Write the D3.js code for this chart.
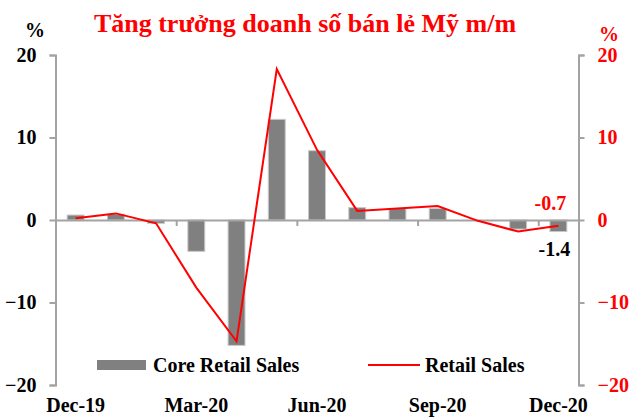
<!DOCTYPE html>
<html>
<head>
<meta charset="utf-8">
<script src="https://cdn.jsdelivr.net/npm/d3@7"></script>
<style>
body { margin: 0; background: #fff; }
text { font-family: "Liberation Serif", "Times New Roman", serif; font-weight: bold; }
</style>
</head>
<body>
<div id="chart"></div>
<script>
// months Dec-19 .. Dec-20
var months = ["Dec-19","Jan-20","Feb-20","Mar-20","Apr-20","May-20","Jun-20","Jul-20","Aug-20","Sep-20","Oct-20","Nov-20","Dec-20"];
var coreRetail = [0.6, 0.7, -0.4, -3.8, -15.2, 12.2, 8.4, 1.5, 1.4, 1.4, 0.0, -1.1, -1.4];
var retailSales = [0.2, 0.8, -0.4, -8.2, -14.7, 18.3, 8.5, 1.1, 1.4, 1.7, -0.1, -1.4, -0.7];
var monthLabels = ["Dec-19","Mar-20","Jun-20","Sep-20","Dec-20"];
var yTicks = [-20, -10, 0, 10, 20];

var width = 630, height = 418;
var plotLeft = 55.5, plotRight = 578.5, plotTop = 55, plotBottom = 385;
var axisColor = '#a3a3a3';

var svg = d3.select('#chart')
    .append('svg')
    .attr('width', width)
    .attr('height', height);

var x = d3.scaleBand()
    .domain(months)
    .range([plotLeft, plotRight])
    .padding(0);

var y = d3.scaleLinear()
    .domain([-20, 20])
    .range([plotBottom, plotTop]);

// title
svg.append('text')
    .attr('x', 305)
    .attr('y', 32)
    .attr('text-anchor', 'middle')
    .attr('fill', '#ff0000')
    .style('font-size', '26px')
    .text('Tăng trưởng doanh số bán lẻ Mỹ m/m');

svg.append('text')
    .attr('x', 35).attr('y', 37)
    .attr('text-anchor', 'middle')
    .style('font-size', '20px')
    .text('%');

svg.append('text')
    .attr('x', 609).attr('y', 41)
    .attr('text-anchor', 'middle')
    .attr('fill', '#ff0000')
    .style('font-size', '20px')
    .text('%');

// left axis
var yAxisL = d3.axisLeft(y).tickValues(yTicks).tickSize(6).tickPadding(13);
var gl = svg.append('g')
    .attr('transform', 'translate(' + plotLeft + ',0)')
    .call(yAxisL);
gl.select('.domain').attr('stroke', axisColor).attr('stroke-width', 2);
gl.selectAll('.tick line').attr('stroke', axisColor).attr('stroke-width', 2);
gl.selectAll('.tick text').style('font-size', '20px').attr('fill', '#000');

// right axis
var yAxisR = d3.axisRight(y).tickValues(yTicks).tickSize(6).tickPadding(13);
var gr = svg.append('g')
    .attr('transform', 'translate(' + plotRight + ',0)')
    .call(yAxisR);
gr.select('.domain').attr('stroke', axisColor).attr('stroke-width', 2);
gr.selectAll('.tick line').attr('stroke', axisColor).attr('stroke-width', 2);
gr.selectAll('.tick text').style('font-size', '20px').attr('fill', '#ff0000');

// bars
var barW = x.bandwidth() * 0.42;
svg.append('g')
    .selectAll('rect')
    .data(coreRetail)
    .enter()
    .append('rect')
    .attr('x', function(d, i) { return x(months[i]) + (x.bandwidth() - barW) / 2; })
    .attr('y', function(d) { return y(Math.max(0, d)); })
    .attr('width', barW)
    .attr('height', function(d) { return Math.abs(y(d) - y(0)); })
    .attr('fill', '#808080')
    .attr('stroke', '#c8c8c8')
    .attr('stroke-width', 1);

// zero line + quarter ticks
var xIdx = d3.scaleLinear().domain([0, months.length]).range([plotLeft, plotRight]);
var gx = svg.append('g')
    .attr('transform', 'translate(0,' + y(0) + ')')
    .call(d3.axisBottom(xIdx).tickValues([3, 6, 9, 12]).tickSize(6).tickFormat(''));
gx.select('.domain').attr('stroke', axisColor).attr('stroke-width', 2);
gx.selectAll('.tick line').attr('stroke', axisColor).attr('stroke-width', 2);

// retail sales line
svg.append('path')
    .datum(retailSales)
    .attr('fill', 'none')
    .attr('stroke', '#ff0000')
    .attr('stroke-width', 2)
    .attr('d', d3.line()
        .x(function(d, i) { return x(months[i]) + x.bandwidth() / 2; })
        .y(function(d) { return y(d); })
    );

// month labels
var gm = svg.append('g')
    .attr('transform', 'translate(0,398)')
    .call(d3.axisBottom(x).tickValues(monthLabels).tickSize(0).tickPadding(0));
gm.select('.domain').remove();
gm.selectAll('.tick text').style('font-size', '20px').attr('fill', '#000').attr('dy', '0.71em');

// data labels for last month
var last = months.length - 1;
svg.append('text')
    .attr('x', x(months[last]) + x.bandwidth() / 2 - 8)
    .attr('y', 210)
    .attr('text-anchor', 'middle')
    .attr('fill', '#ff0000')
    .style('font-size', '20px')
    .text(retailSales[last].toFixed(1));

svg.append('text')
    .attr('x', x(months[last]) + x.bandwidth() / 2 - 4)
    .attr('y', 256)
    .attr('text-anchor', 'middle')
    .attr('fill', '#000')
    .style('font-size', '20px')
    .text(coreRetail[last].toFixed(1));

// legend
svg.append('rect')
    .attr('x', 97).attr('y', 360)
    .attr('width', 49).attr('height', 10)
    .attr('fill', '#808080');
svg.append('text')
    .attr('x', 153).attr('y', 372)
    .style('font-size', '20px')
    .text('Core Retail Sales');
svg.append('line')
    .attr('x1', 368).attr('x2', 420)
    .attr('y1', 365).attr('y2', 365)
    .attr('stroke', '#ff0000')
    .attr('stroke-width', 2);
svg.append('text')
    .attr('x', 425).attr('y', 372)
    .style('font-size', '20px')
    .text('Retail Sales');
</script>
</body>
</html>
